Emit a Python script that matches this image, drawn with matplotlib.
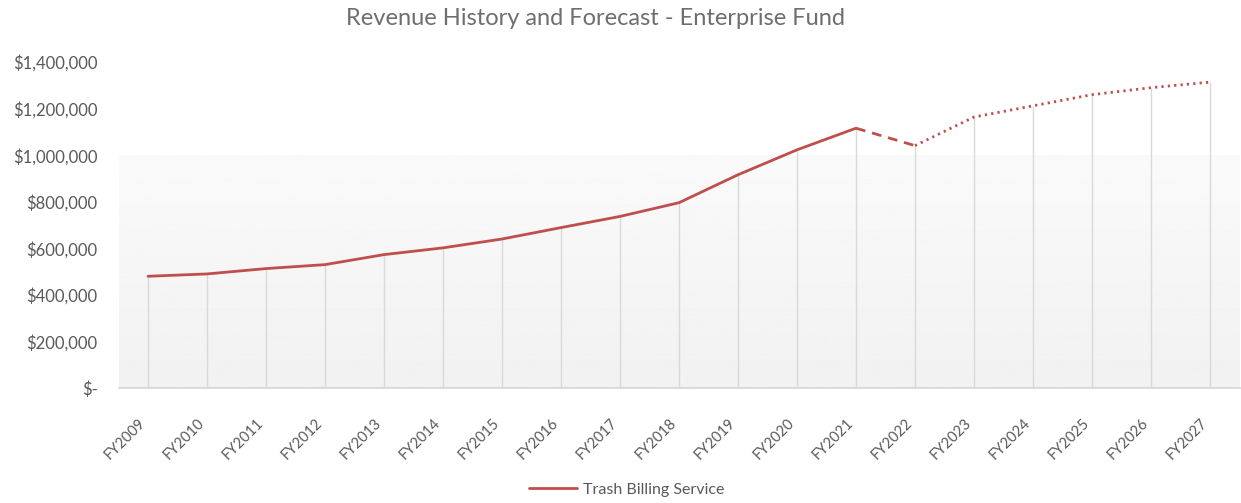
import numpy as np
import matplotlib
matplotlib.use("Agg")
import matplotlib.pyplot as plt
from matplotlib.ticker import FuncFormatter

years = [f"FY{y}" for y in range(2009, 2028)]
revenue = [480000, 490000, 513000, 530000, 573000, 602000, 640000, 689000,
           737000, 796000, 916000, 1023000, 1116000, 1041000, 1164000,
           1212000, 1260000, 1290000, 1314000]
last_actual = "FY2021"      # solid up to here
budget_year = "FY2022"      # dashed segment, dotted after

RED = "#be4f4c"
GRID = "#d9d9d9"
TXT = "#595959"

plt.rcParams["font.family"] = ["Lato", "DejaVu Sans"]

x = np.arange(len(years))
y = np.array(revenue, dtype=float)
i_act = years.index(last_actual)
i_bud = years.index(budget_year)

fig = plt.figure(figsize=(12.41, 5.03), dpi=100)
ax = fig.add_axes([0.0955, 0.2286, 0.9033, 0.648])
ax.set_xlim(-0.5, len(years) - 0.5)
ax.set_ylim(0, 1400000)

# soft grey fill in the lower part of the plot area
grad = np.linspace(0.945, 0.98, 256).reshape(-1, 1)
ax.imshow(grad, cmap="gray", vmin=0, vmax=1, aspect="auto", origin="lower",
          extent=[-0.5, len(years) - 0.5, 0, 1000000], zorder=0)

# drop lines from every point to the axis
ax.vlines(x, 0, y, color=GRID, lw=1.0, zorder=1)

ax.plot(x[:i_act + 1], y[:i_act + 1], color=RED, lw=2.0, solid_capstyle="round",
        zorder=3, label="Trash Billing Service")
ax.plot(x[i_act:i_bud + 1], y[i_act:i_bud + 1], color=RED, lw=2.0,
        dashes=(3.5, 2.5), zorder=3)
ax.plot(x[i_bud:], y[i_bud:], color=RED, lw=2.0, dashes=(0.8, 1.5),
        dash_capstyle="butt", zorder=3)

ax.set_xticks(x)
ax.set_xticklabels(years, rotation=45, ha="right", fontsize=10.5, color=TXT)
ax.set_yticks(np.arange(0, 1400001, 200000))
ax.yaxis.set_major_formatter(FuncFormatter(
    lambda v, _: "$-" if v == 0 else f"${v:,.0f}"))
ax.tick_params(axis="y", length=0, pad=15, labelsize=12, labelcolor=TXT)
ax.tick_params(axis="x", length=0, pad=20)

for side in ("top", "right", "left"):
    ax.spines[side].set_visible(False)
ax.spines["bottom"].set_color(GRID)
ax.spines["bottom"].set_linewidth(1.3)

fig.text(0.48, 0.963, "Revenue History and Forecast - Enterprise Fund",
         ha="center", va="center", fontsize=17, color="#6e6e6e")

fig.legend(loc="center", bbox_to_anchor=(0.505, 0.026), frameon=False,
           fontsize=11.5, labelcolor=TXT, handlelength=3.0, handletextpad=0.4)

fig.savefig("out.png", dpi=100, facecolor="white")
